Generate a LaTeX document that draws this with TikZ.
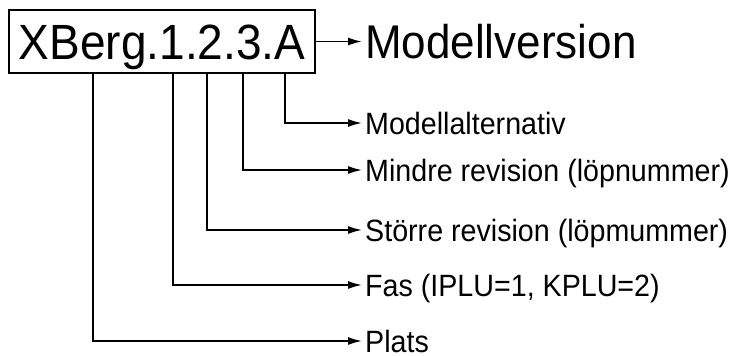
\documentclass[tikz,border=0pt]{standalone}
\usepackage{fontspec}
\setmainfont[FakeStretch=0.93]{Liberation Sans}
\usetikzlibrary{arrows.meta}
\begin{document}
\begin{tikzpicture}[x=1pt,y=1pt,
  conn/.style={line width=1.6pt, -{Latex[length=14pt,width=8pt]}},
  lbl/.style={anchor=west, inner xsep=3pt, inner ysep=0pt,
    font=\fontsize{30.8}{32}\selectfont, text height=22pt, text depth=0pt},
  codebox/.style={draw, line width=1.6pt, minimum width=306pt, minimum height=63pt,
    inner sep=0pt, text height=35.4pt, text depth=0pt, font=\fontsize{49.5}{52}\selectfont}]
\useasboundingbox (0,0) rectangle (734,-356);

% the version code in its frame
\node[codebox] (code) at (162,-41.5) {XBerg.1.2.3.A};

% taps under the individual parts of the code
\coordinate (tA)    at (285,-73);
\coordinate (t3)    at (243,-73);
\coordinate (t2)    at (207,-73);
\coordinate (t1)    at (173,-73);
\coordinate (tberg) at (93,-73);

% explanations
\node[lbl, font=\fontsize{47.3}{50}\selectfont, text height=33.9pt] (ver) at (362,-41.5) {Modellversion};
\node[lbl] (alt)    at (362,-123) {Modellalternativ};
\node[lbl] (mindre) at (362,-170) {Mindre revision (löpnummer)};
\node[lbl] (storre) at (362,-230) {Större revision (löpmummer)};
\node[lbl] (fas)    at (362,-285) {Fas (IPLU=1, KPLU=2)};
\node[lbl] (plats)  at (362,-341) {Plats};

% connectors
\draw[conn] (code.east) -- (ver.west);
\draw[conn] (tA) |- (alt.west);
\draw[conn] (t3) |- (mindre.west);
\draw[conn] (t2) |- (storre.west);
\draw[conn] (t1) |- (fas.west);
\draw[conn] (tberg) |- (plats.west);
\end{tikzpicture}
\end{document}
